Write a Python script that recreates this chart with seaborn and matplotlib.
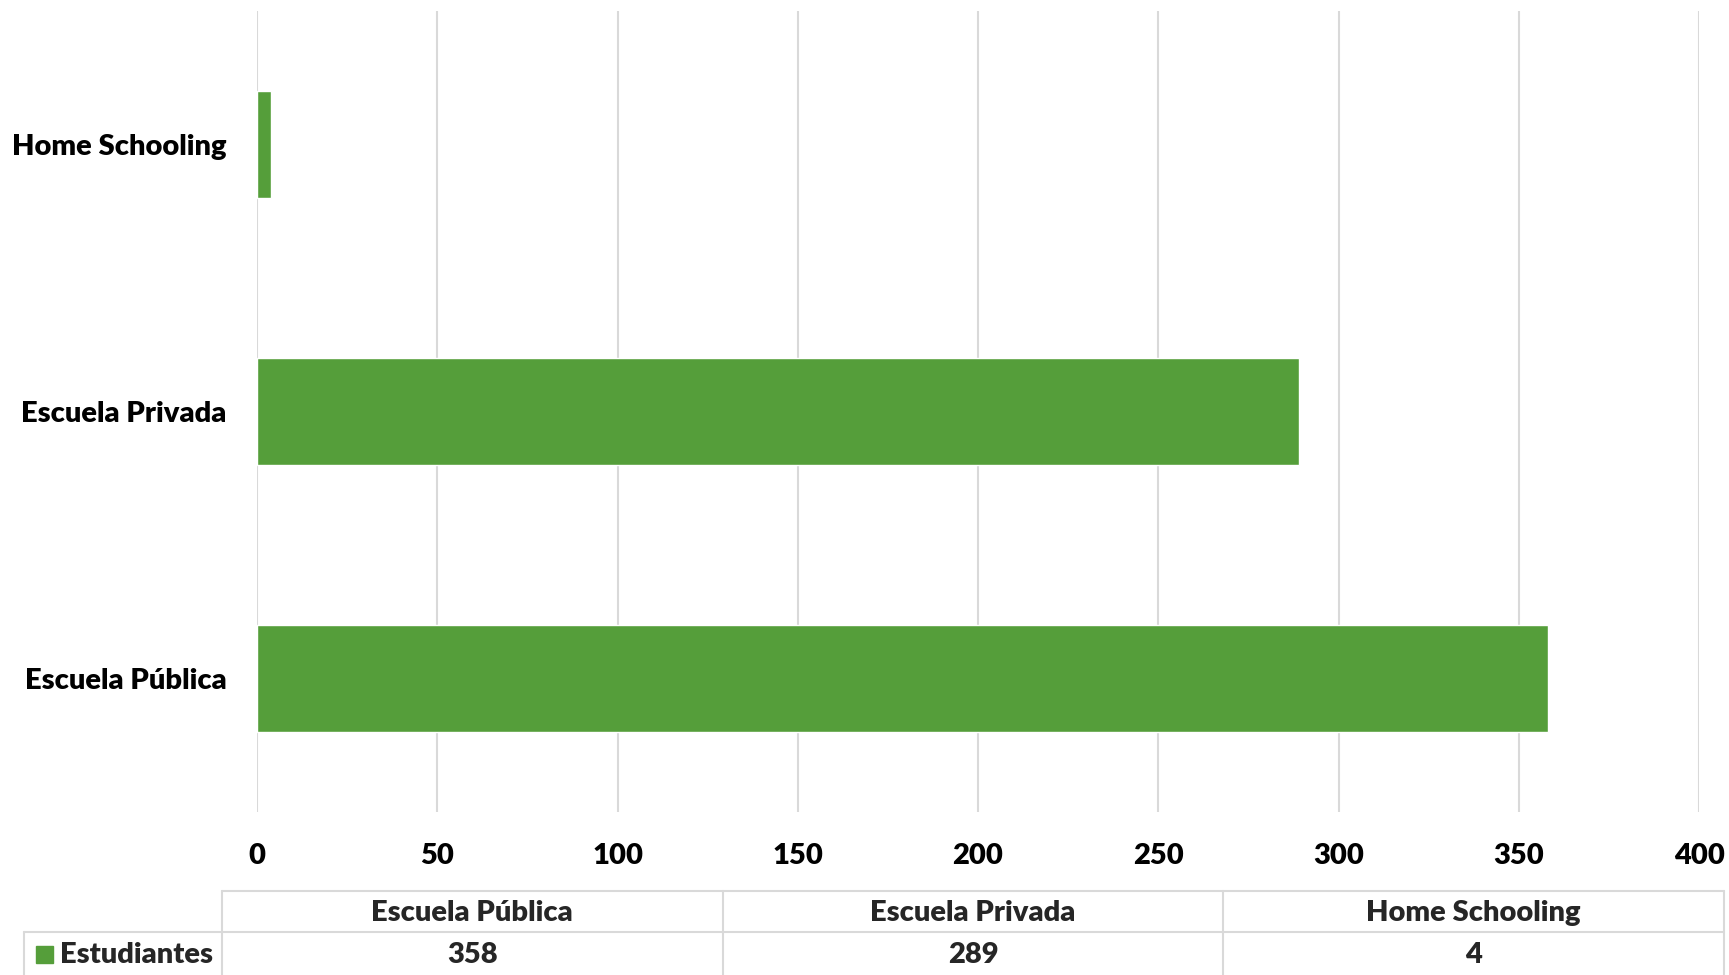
import matplotlib
matplotlib.use("Agg")
import matplotlib.pyplot as plt
from matplotlib.lines import Line2D
from matplotlib.patches import Rectangle
import pandas as pd
import seaborn as sns

# data
categories = ["Escuela Pública", "Escuela Privada", "Home Schooling"]
estudiantes = [358, 289, 4]
series_name = "Estudiantes"
x_ticks = [0, 50, 100, 150, 200, 250, 300, 350, 400]

GREEN = "#559E3A"
GRID = "#D9D9D9"
FONT = ["Lato", "DejaVu Sans"]
FS = 21
WT = "heavy"

df = pd.DataFrame({"Tipo": categories, series_name: estudiantes})

sns.set_theme(style="white")
plt.rcParams["font.family"] = FONT

W, H = 1729, 975
fig = plt.figure(figsize=(W / 100, H / 100), dpi=100)
ax = fig.add_axes([257 / W, 1 - 812 / H, (1699 - 257) / W, (812 - 11) / H])

# bars, Home Schooling on top
order = categories[::-1]
sns.barplot(data=df, x=series_name, y="Tipo", order=order, orient="h",
            color=GREEN, saturation=1, width=0.4, ax=ax, zorder=3)

ax.set_xlim(0, 400)
ax.set_ylim(2.5, -0.5)
ax.set_xticks(x_ticks)
ax.set_xticklabels([str(t) for t in x_ticks], fontsize=FS, fontweight=WT)
ax.set_yticklabels(order, fontsize=FS, fontweight=WT)
ax.tick_params(axis="x", length=0, pad=22, colors="black")
ax.tick_params(axis="y", length=0, pad=22, colors="black")
ax.set_xlabel("")
ax.set_ylabel("")
ax.grid(axis="x", color=GRID, linewidth=1.5, zorder=0)
ax.set_axisbelow(True)
for s in ax.spines.values():
    s.set_visible(False)

# data table under the chart
def fx(px):
    return px / W

def fy(py):
    return 1 - py / H

tbl_left, tbl_right = 222, 1724
leg_left = 24
row_top, row_mid, row_bot = 891, 932, 975
col_w = (tbl_right - tbl_left) / len(categories)
lkw = dict(color=GRID, linewidth=1.5, transform=fig.transFigure)

fig.lines.append(Line2D([fx(tbl_left), fx(tbl_right)], [fy(row_top)] * 2, **lkw))
fig.lines.append(Line2D([fx(leg_left), fx(tbl_right)], [fy(row_mid)] * 2, **lkw))
fig.lines.append(Line2D([fx(leg_left)] * 2, [fy(row_mid), fy(row_bot)], **lkw))
for i in range(len(categories) + 1):
    xx = tbl_left + i * col_w
    fig.lines.append(Line2D([fx(xx)] * 2, [fy(row_top), fy(row_bot)], **lkw))

for i, (cat, val) in enumerate(zip(categories, estudiantes)):
    cx = fx(tbl_left + (i + 0.5) * col_w)
    fig.text(cx, fy(913), cat, ha="center", va="center", fontsize=FS, fontweight=WT)
    fig.text(cx, fy(955), str(val), ha="center", va="center", fontsize=FS, fontweight=WT)

fig.patches.append(Rectangle((fx(36), fy(963)), 17 / W, 17 / H, color=GREEN,
                             transform=fig.transFigure, figure=fig))
fig.text(fx(60), fy(955), series_name, ha="left", va="center", fontsize=FS, fontweight=WT)

fig.savefig("out.png", dpi=100)
